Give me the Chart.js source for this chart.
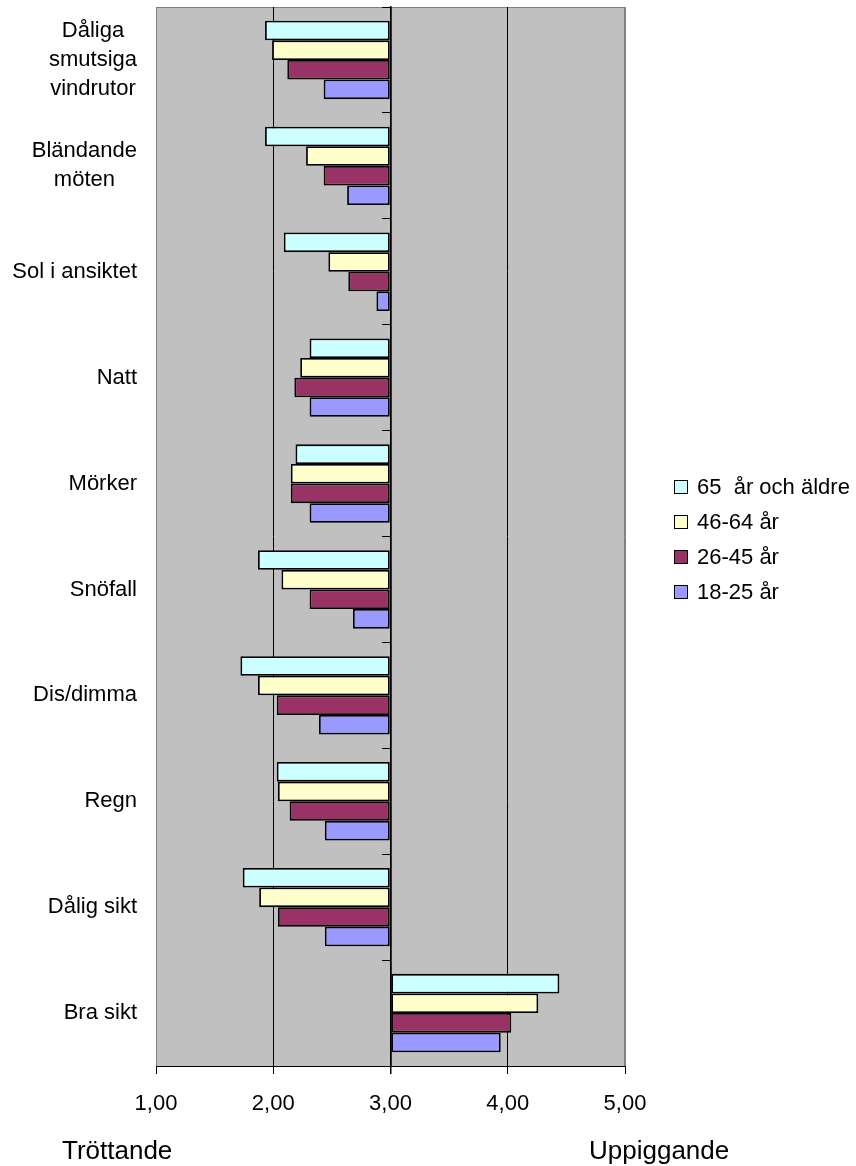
<!DOCTYPE html>
<html>
<head>
<meta charset="utf-8">
<title>Sikt och vakenhet</title>
<script src="https://cdn.jsdelivr.net/npm/chart.js@4/dist/chart.umd.min.js"></script>
<style>
  html, body { margin: 0; padding: 0; background: #fff; }
  #wrap { width: 856px; height: 1166px; }
</style>
</head>
<body>
<div id="wrap"><canvas id="siktChart" width="856" height="1166"></canvas></div>
<script>
// categories, top to bottom
const categories = [
  ['Dåliga', 'smutsiga', 'vindrutor'],
  ['Bländande', 'möten'],
  'Sol i ansiktet',
  'Natt',
  'Mörker',
  'Snöfall',
  'Dis/dimma',
  'Regn',
  'Dålig sikt',
  'Bra sikt'
];

const seriesNames = ['65  år och äldre', '46-64 år', '26-45 år', '18-25 år'];

// mean scores (1 = tröttande, 5 = uppiggande)
const age65plus = [1.93, 1.93, 2.09, 2.31, 2.19, 1.87, 1.72, 2.03, 1.74, 4.44];
const age46to64 = [1.99, 2.28, 2.47, 2.23, 2.15, 2.07, 1.87, 2.04, 1.88, 4.26];
const age26to45 = [2.12, 2.43, 2.64, 2.18, 2.15, 2.31, 2.03, 2.14, 2.04, 4.03];
const age18to25 = [2.43, 2.63, 2.88, 2.31, 2.31, 2.68, 2.39, 2.44, 2.44, 3.94];

const xTicks = [1, 2, 3, 4, 5];
const neutral = 3;

const colors = ['#CCFFFF', '#FFFFCC', '#993366', '#9999FF'];
const FONT = 'Arial, "Liberation Sans", sans-serif';

const series = [age65plus, age46to64, age26to45, age18to25];

// grey plot area with a thin frame
const plotBackground = {
  id: 'plotBackground',
  beforeDraw(chart) {
    const { ctx, chartArea: a } = chart;
    ctx.save();
    ctx.fillStyle = '#fff';
    ctx.fillRect(0, 0, chart.width, chart.height);
    ctx.fillStyle = '#C0C0C0';
    ctx.fillRect(a.left, a.top, a.right - a.left, a.bottom - a.top);
    ctx.strokeStyle = '#808080';
    ctx.lineWidth = 1;
    ctx.strokeRect(a.left + 0.5, a.top + 0.5, a.right - a.left - 1, a.bottom - a.top);
    ctx.restore();
  }
};

// category names left of the plot, wrapped lines centred in their block
const categoryLabels = {
  id: 'categoryLabels',
  afterDraw(chart) {
    const { ctx } = chart;
    const yScale = chart.scales.y;
    const rightEdge = 137;
    const lineHeight = 29;
    ctx.save();
    ctx.font = '22px ' + FONT;
    ctx.fillStyle = '#000';
    ctx.textBaseline = 'middle';
    chart.data.labels.forEach((label, i) => {
      const lines = Array.isArray(label) ? label : [label];
      const maxW = Math.max(...lines.map(l => ctx.measureText(l).width));
      const cy = yScale.getPixelForValue(i);
      const y0 = cy - (lines.length - 1) * lineHeight / 2;
      if (lines.length === 1) {
        ctx.textAlign = 'right';
        ctx.fillText(lines[0], rightEdge, cy);
      } else {
        ctx.textAlign = 'center';
        lines.forEach((l, k) => ctx.fillText(l, rightEdge - maxW / 2, y0 + k * lineHeight));
      }
    });
    ctx.restore();
  }
};

// legend on the right and the scale end notes under the axis
const sideNotes = {
  id: 'sideNotes',
  afterDraw(chart) {
    const { ctx } = chart;
    ctx.save();
    ctx.font = '22px ' + FONT;
    ctx.textBaseline = 'middle';
    ctx.textAlign = 'left';
    chart.data.datasets.forEach((ds, i) => {
      const cy = 487 + i * 35;
      ctx.fillStyle = ds.backgroundColor;
      ctx.fillRect(674, cy - 7, 14, 14);
      ctx.strokeStyle = '#000';
      ctx.lineWidth = 1;
      ctx.strokeRect(674.5, cy - 6.5, 13, 13);
      ctx.fillStyle = '#000';
      ctx.fillText(ds.label, 697, cy + 1);
    });
    ctx.font = '26px ' + FONT;
    ctx.fillText('Tröttande', 62, 1152);
    ctx.fillText('Uppiggande', 589, 1152);
    ctx.restore();
  }
};

new Chart(document.getElementById('siktChart'), {
  type: 'bar',
  data: {
    labels: categories,
    datasets: series.map((data, i) => ({
      label: seriesNames[i],
      data: data,
      base: neutral,
      backgroundColor: colors[i],
      borderColor: '#000',
      borderWidth: 1.8,
      borderSkipped: false,
      barPercentage: 1.0,
      categoryPercentage: 0.74
    }))
  },
  options: {
    indexAxis: 'y',
    responsive: false,
    animation: false,
    devicePixelRatio: 1,
    layout: { padding: { top: 7, right: 231, left: 0, bottom: 0 } },
    plugins: {
      legend: { display: false },
      tooltip: { enabled: false }
    },
    scales: {
      x: {
        min: 1,
        max: 5,
        afterBuildTicks: s => { s.ticks = xTicks.map(v => ({ value: v })); },
        afterFit: s => { s.height = 100; },
        grid: {
          color: c => {
            const v = c.tick ? c.tick.value : 0;
            if (v === 1 || v === 5) return '#808080';
            return '#000';
          },
          lineWidth: c => (c.tick && c.tick.value === neutral ? 1.5 : 1),
          tickLength: 8,
          tickColor: '#000'
        },
        border: { color: '#000', width: 1 },
        ticks: {
          color: '#000',
          padding: 17,
          font: { family: FONT, size: 22 },
          callback: v => Number(v).toFixed(2).replace('.', ',')
        }
      },
      y: {
        afterFit: s => { s.width = 156; },
        grid: { display: false },
        border: { display: false },
        ticks: { display: false }
      },
      yMid: {
        type: 'category',
        position: { x: neutral },
        offset: true,
        grid: {
          offset: true,
          drawOnChartArea: false,
          tickLength: 8,
          tickColor: '#000',
          tickWidth: 1
        },
        border: { color: '#000', width: 1.5 },
        ticks: { display: false }
      }
    }
  },
  plugins: [plotBackground, categoryLabels, sideNotes]
});
</script>
</body>
</html>
